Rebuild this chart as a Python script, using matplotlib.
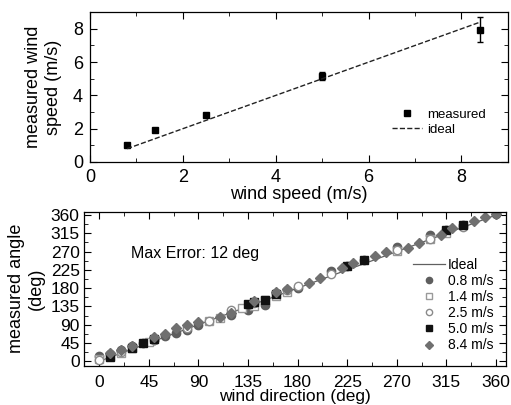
import matplotlib
matplotlib.use('Agg')
from matplotlib import pyplot as plt
from matplotlib.ticker import MultipleLocator

plt.rcParams['font.family'] = ['Liberation Sans', 'DejaVu Sans']

# top panel: wind speed
speed_set = [0.8, 1.4, 2.5, 5.0, 8.4]
speed_meas = [1.05, 1.95, 2.85, 5.15, 7.95]
speed_err = [0.12, 0.08, 0.08, 0.25, 0.75]

# bottom panel: wind direction, one series per speed
dir_08 = [0, 10, 20, 30, 40, 50, 60, 70, 80, 90, 120, 135, 150, 160, 180, 210, 225, 240, 270, 300, 315, 330, 360]
ang_08 = [12, 18, 28, 38, 46, 52, 62, 70, 78, 90, 115, 126, 138, 168, 180, 222, 235, 250, 282, 310, 323, 335, 362]
dir_14 = [0, 10, 20, 30, 45, 100, 110, 130, 140, 150, 160, 170, 270, 300, 315]
ang_14 = [5, 12, 20, 32, 48, 100, 107, 130, 135, 150, 160, 170, 272, 300, 316]
dir_25 = [0, 20, 50, 80, 100, 120, 140, 170, 180, 210, 270, 300, 330]
ang_25 = [3, 22, 52, 82, 100, 125, 143, 175, 185, 215, 275, 302, 330]
dir_50 = [10, 30, 40, 50, 135, 140, 150, 160, 225, 240, 315, 330]
ang_50 = [10, 32, 44, 56, 140, 145, 152, 165, 235, 250, 322, 336]
dir_84 = [10, 20, 30, 50, 60, 70, 80, 90, 110, 120, 140, 160, 170, 190, 200, 220, 230,
          250, 260, 280, 290, 310, 320, 340, 350, 360]
ang_84 = [20, 28, 38, 60, 68, 82, 90, 96, 110, 120, 148, 170, 178, 192, 205, 230, 242,
          260, 268, 278, 290, 310, 328, 345, 355, 362]


def style_axes(ax):
    ax.tick_params(which='both', direction='in', top=True, right=True)
    ax.tick_params(which='major', length=5)
    ax.tick_params(which='minor', length=3)
    for s in ax.spines.values():
        s.set_linewidth(0.9)


fig = plt.figure(figsize=(5.11, 4.05), dpi=100)

ax1 = fig.add_axes([0.176, 0.600, 0.818, 0.370])
ax1.errorbar(speed_set, speed_meas, yerr=speed_err, fmt='none', ecolor='black',
             capsize=2.5, elinewidth=1)
ax1.plot(speed_set, speed_meas, 's', ls='none', color='black', markersize=5, label='measured')
ax1.plot([speed_set[0], speed_set[-1]], [speed_set[0], speed_set[-1]], '--',
         color='#222222', lw=1, label='ideal')
ax1.set_xlim(0, 9)
ax1.set_ylim(0, 9)
ax1.xaxis.set_major_locator(MultipleLocator(2))
ax1.xaxis.set_minor_locator(MultipleLocator(1))
ax1.yaxis.set_major_locator(MultipleLocator(2))
ax1.yaxis.set_minor_locator(MultipleLocator(1))
style_axes(ax1)
ax1.tick_params(labelsize=13, pad=5)
ax1.set_xlabel('wind speed (m/s)', fontsize=13, labelpad=0)
ax1.set_ylabel('measured wind\nspeed (m/s)', fontsize=13, labelpad=8)
ax1.legend(loc='upper left', frameon=False, fontsize=9.5, bbox_to_anchor=(0.722, 0.355),
           borderaxespad=0, borderpad=0, handlelength=2.3, handletextpad=0.4,
           labelspacing=0.2)

ax2 = fig.add_axes([0.164, 0.097, 0.826, 0.380])
ax2.plot([0, 360], [0, 360], '-', color='#606060', lw=0.9, label='Ideal')
ax2.plot(dir_08, ang_08, 'o', ls='none', color='#5e5e5e', markersize=6, label='0.8 m/s')
ax2.plot(dir_14, ang_14, 's', ls='none', mfc='white', mec='#9a9a9a', mew=1, markersize=5.5, label='1.4 m/s')
ax2.plot(dir_25, ang_25, 'o', ls='none', mfc='white', mec='#8a8a8a', mew=1, markersize=6, label='2.5 m/s')
ax2.plot(dir_50, ang_50, 's', ls='none', color='#111111', markersize=5.5, label='5.0 m/s')
ax2.plot(dir_84, ang_84, 'D', ls='none', color='#707070', markersize=5, label='8.4 m/s')
ax2.set_xlim(-14, 369)
ax2.set_ylim(-11, 368)
ax2.xaxis.set_major_locator(MultipleLocator(45))
ax2.xaxis.set_minor_locator(MultipleLocator(22.5))
ax2.yaxis.set_major_locator(MultipleLocator(45))
ax2.yaxis.set_minor_locator(MultipleLocator(22.5))
style_axes(ax2)
ax2.tick_params(labelsize=12.5)
ax2.tick_params(axis='x', pad=7)
ax2.tick_params(axis='y', pad=3)
ax2.set_xlabel('wind direction (deg)', fontsize=12.5, labelpad=-1)
ax2.set_ylabel('measured angle\n(deg)', fontsize=13, labelpad=4)
ax2.text(29, 266, 'Max Error: 12 deg', fontsize=11.5, va='center')
ax2.legend(loc='upper left', frameon=False, fontsize=10, bbox_to_anchor=(0.779, 0.70),
           borderaxespad=0, borderpad=0, handlelength=2.3, handletextpad=0.25,
           labelspacing=0.15, markerscale=0.75)

fig.savefig('out.png', dpi=100)
